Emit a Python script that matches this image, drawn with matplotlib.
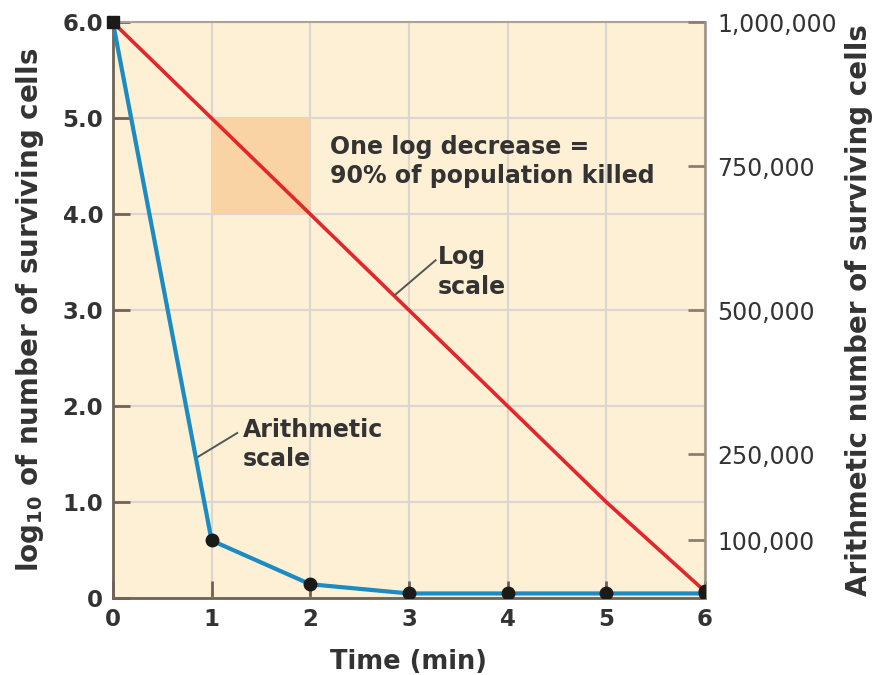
import matplotlib.pyplot as plt
import matplotlib.patches as patches

plt.rcParams['font.family'] = ['DejaVu Sans']

# time axis (minutes)
time_min = [0, 1, 2, 3, 4, 5, 6]
time_labels = ["0", "1", "2", "3", "4", "5", "6"]

# log10 of surviving cells (red, left axis)
log_cells = [6.0, 5.0, 4.0, 3.0, 2.0, 1.0, 0.07]

# arithmetic number of surviving cells (blue, right axis)
arith_cells = [1_000_000, 100_000, 24_000, 8_000, 8_000, 8_000, 8_000]

left_ticks = [0, 1, 2, 3, 4, 5, 6]
left_labels = ["0", "1.0", "2.0", "3.0", "4.0", "5.0", "6.0"]
right_ticks = [100_000, 250_000, 500_000, 750_000, 1_000_000]
right_labels = ["100,000", "250,000", "500,000", "750,000", "1,000,000"]

TEXT = "#333333"
SPINE = "#6e6356"


def main():
    fig = plt.figure(figsize=(8.89, 6.75), dpi=100)
    ax = fig.add_axes([0.127, 0.114, 0.666, 0.853])
    ax.set_facecolor("#fdf0d4")
    ax.set_xlim(0, 6)
    ax.set_ylim(0, 6)

    ax.set_xticks(time_min)
    ax.set_xticklabels(time_labels)
    ax.set_yticks(left_ticks)
    ax.set_yticklabels(left_labels)
    ax.grid(True, color="#dcd6d0", linewidth=1.6, zorder=0)
    ax.set_axisbelow(True)

    # one log decrease box
    ax.add_patch(patches.Rectangle((1, 4), 1, 1, facecolor="#fad3a5",
                                   edgecolor="none", zorder=1))

    ax.plot(time_min, log_cells, color="#e3262b", linewidth=2.6, zorder=3)

    ax.tick_params(axis="both", direction="in", length=12, width=2,
                   color=SPINE, labelsize=16.5, labelcolor=TEXT, pad=7)
    for lab in ax.get_xticklabels() + ax.get_yticklabels():
        lab.set_fontweight("bold")

    for side in ["left", "bottom"]:
        ax.spines[side].set_color(SPINE)
        ax.spines[side].set_linewidth(2)
    ax.spines["top"].set_color("#a8a29a")
    ax.spines["top"].set_linewidth(1.5)
    ax.spines["right"].set_visible(False)

    ax.set_xlabel("Time (min)", fontsize=18.5, fontweight="bold", color=TEXT, labelpad=13)
    ax.set_ylabel("log$_{\\mathbf{10}}$ of number of surviving cells", fontsize=20,
                  fontweight="bold", color=TEXT, labelpad=12)

    ax.text(2.2, 4.55, "One log decrease =\n90% of population killed", fontsize=17,
            fontweight="bold", color=TEXT, va="center", ha="left", linespacing=1.3)
    ax.text(3.29, 3.4, "Log\nscale", fontsize=17, fontweight="bold", color=TEXT,
            va="center", ha="left", linespacing=1.3)
    ax.plot([2.86, 3.27], [3.16, 3.52], color="#555555", linewidth=1.4, zorder=4)
    ax.text(1.32, 1.6, "Arithmetic\nscale", fontsize=17, fontweight="bold", color=TEXT,
            va="center", ha="left", linespacing=1.3)
    ax.plot([0.86, 1.26], [1.47, 1.72], color="#555555", linewidth=1.4, zorder=4)

    # right axis with arithmetic counts
    ax2 = ax.twinx()
    ax2.set_ylim(0, 1_000_000)
    ax2.plot(time_min, arith_cells, color="#1b8bc2", linewidth=3, zorder=3)
    ax2.plot(time_min[1:], arith_cells[1:], linestyle="none", marker="o",
             markersize=9, color="#1a1a1a", zorder=5)
    ax2.plot(time_min[-1], log_cells[-1] / 6 * 1_000_000, marker="o", markersize=9,
             color="#1a1a1a", zorder=5)
    ax2.plot(time_min[0], arith_cells[0], marker="s", markersize=8,
             color="#1a1a1a", zorder=5, clip_on=False)
    ax2.set_yticks(right_ticks)
    ax2.set_yticklabels(right_labels)
    ax2.tick_params(axis="y", direction="in", length=12, width=2, color="#8a8070",
                    labelsize=17, labelcolor=TEXT, pad=9)
    for side in ["left", "bottom", "top"]:
        ax2.spines[side].set_visible(False)
    ax2.spines["right"].set_color("#9a9080")
    ax2.spines["right"].set_linewidth(1.8)
    ax2.set_ylabel("Arithmetic number of surviving cells", fontsize=20,
                   fontweight="bold", color=TEXT, labelpad=6)

    fig.savefig("out.png", dpi=100)
    plt.close()


if __name__ == "__main__":
    main()
